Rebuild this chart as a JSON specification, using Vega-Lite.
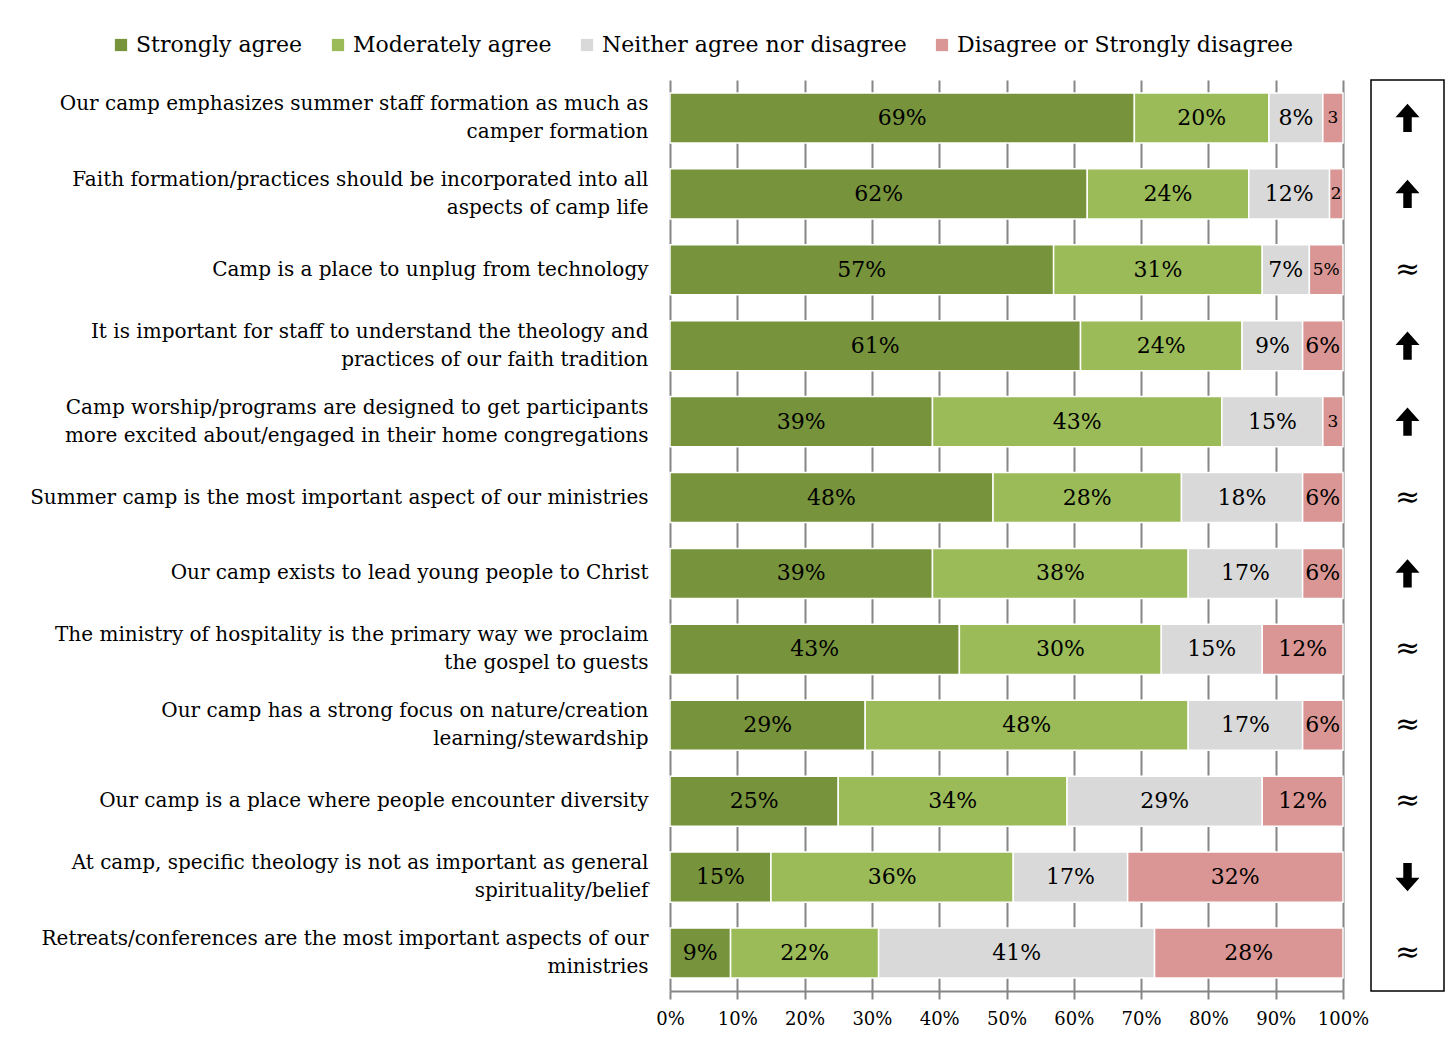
{
  "$schema": "https://vega.github.io/schema/vega-lite/v6.json",
  "background": "white",
  "padding": {"left": 29, "top": 34, "right": 0, "bottom": 0},
  "config": {"font": "DejaVu Serif", "view": {"stroke": null}},
  "spacing": 1,
  "datasets": {
    "bars": [
      {"q": "Our camp emphasizes summer staff formation as much as|camper formation", "r": "Strongly agree", "v": 69, "label": "69%"},
      {"q": "Our camp emphasizes summer staff formation as much as|camper formation", "r": "Moderately agree", "v": 20, "label": "20%"},
      {"q": "Our camp emphasizes summer staff formation as much as|camper formation", "r": "Neither agree nor disagree", "v": 8, "label": "8%"},
      {"q": "Our camp emphasizes summer staff formation as much as|camper formation", "r": "Disagree or Strongly disagree", "v": 3, "label": "3"},
      {"q": "Faith formation/practices should be incorporated into all|aspects of camp life", "r": "Strongly agree", "v": 62, "label": "62%"},
      {"q": "Faith formation/practices should be incorporated into all|aspects of camp life", "r": "Moderately agree", "v": 24, "label": "24%"},
      {"q": "Faith formation/practices should be incorporated into all|aspects of camp life", "r": "Neither agree nor disagree", "v": 12, "label": "12%"},
      {"q": "Faith formation/practices should be incorporated into all|aspects of camp life", "r": "Disagree or Strongly disagree", "v": 2, "label": "2"},
      {"q": "Camp is a place to unplug from technology", "r": "Strongly agree", "v": 57, "label": "57%"},
      {"q": "Camp is a place to unplug from technology", "r": "Moderately agree", "v": 31, "label": "31%"},
      {"q": "Camp is a place to unplug from technology", "r": "Neither agree nor disagree", "v": 7, "label": "7%"},
      {"q": "Camp is a place to unplug from technology", "r": "Disagree or Strongly disagree", "v": 5, "label": "5%"},
      {"q": "It is important for staff to understand the theology and|practices of our faith tradition", "r": "Strongly agree", "v": 61, "label": "61%"},
      {"q": "It is important for staff to understand the theology and|practices of our faith tradition", "r": "Moderately agree", "v": 24, "label": "24%"},
      {"q": "It is important for staff to understand the theology and|practices of our faith tradition", "r": "Neither agree nor disagree", "v": 9, "label": "9%"},
      {"q": "It is important for staff to understand the theology and|practices of our faith tradition", "r": "Disagree or Strongly disagree", "v": 6, "label": "6%"},
      {"q": "Camp worship/programs are designed to get participants|more excited about/engaged in their home congregations", "r": "Strongly agree", "v": 39, "label": "39%"},
      {"q": "Camp worship/programs are designed to get participants|more excited about/engaged in their home congregations", "r": "Moderately agree", "v": 43, "label": "43%"},
      {"q": "Camp worship/programs are designed to get participants|more excited about/engaged in their home congregations", "r": "Neither agree nor disagree", "v": 15, "label": "15%"},
      {"q": "Camp worship/programs are designed to get participants|more excited about/engaged in their home congregations", "r": "Disagree or Strongly disagree", "v": 3, "label": "3"},
      {"q": "Summer camp is the most important aspect of our ministries", "r": "Strongly agree", "v": 48, "label": "48%"},
      {"q": "Summer camp is the most important aspect of our ministries", "r": "Moderately agree", "v": 28, "label": "28%"},
      {"q": "Summer camp is the most important aspect of our ministries", "r": "Neither agree nor disagree", "v": 18, "label": "18%"},
      {"q": "Summer camp is the most important aspect of our ministries", "r": "Disagree or Strongly disagree", "v": 6, "label": "6%"},
      {"q": "Our camp exists to lead young people to Christ", "r": "Strongly agree", "v": 39, "label": "39%"},
      {"q": "Our camp exists to lead young people to Christ", "r": "Moderately agree", "v": 38, "label": "38%"},
      {"q": "Our camp exists to lead young people to Christ", "r": "Neither agree nor disagree", "v": 17, "label": "17%"},
      {"q": "Our camp exists to lead young people to Christ", "r": "Disagree or Strongly disagree", "v": 6, "label": "6%"},
      {"q": "The ministry of hospitality is the primary way we proclaim|the gospel to guests", "r": "Strongly agree", "v": 43, "label": "43%"},
      {"q": "The ministry of hospitality is the primary way we proclaim|the gospel to guests", "r": "Moderately agree", "v": 30, "label": "30%"},
      {"q": "The ministry of hospitality is the primary way we proclaim|the gospel to guests", "r": "Neither agree nor disagree", "v": 15, "label": "15%"},
      {"q": "The ministry of hospitality is the primary way we proclaim|the gospel to guests", "r": "Disagree or Strongly disagree", "v": 12, "label": "12%"},
      {"q": "Our camp has a strong focus on nature/creation|learning/stewardship", "r": "Strongly agree", "v": 29, "label": "29%"},
      {"q": "Our camp has a strong focus on nature/creation|learning/stewardship", "r": "Moderately agree", "v": 48, "label": "48%"},
      {"q": "Our camp has a strong focus on nature/creation|learning/stewardship", "r": "Neither agree nor disagree", "v": 17, "label": "17%"},
      {"q": "Our camp has a strong focus on nature/creation|learning/stewardship", "r": "Disagree or Strongly disagree", "v": 6, "label": "6%"},
      {"q": "Our camp is a place where people encounter diversity", "r": "Strongly agree", "v": 25, "label": "25%"},
      {"q": "Our camp is a place where people encounter diversity", "r": "Moderately agree", "v": 34, "label": "34%"},
      {"q": "Our camp is a place where people encounter diversity", "r": "Neither agree nor disagree", "v": 29, "label": "29%"},
      {"q": "Our camp is a place where people encounter diversity", "r": "Disagree or Strongly disagree", "v": 12, "label": "12%"},
      {"q": "At camp, specific theology is not as important as general|spirituality/belief", "r": "Strongly agree", "v": 15, "label": "15%"},
      {"q": "At camp, specific theology is not as important as general|spirituality/belief", "r": "Moderately agree", "v": 36, "label": "36%"},
      {"q": "At camp, specific theology is not as important as general|spirituality/belief", "r": "Neither agree nor disagree", "v": 17, "label": "17%"},
      {"q": "At camp, specific theology is not as important as general|spirituality/belief", "r": "Disagree or Strongly disagree", "v": 32, "label": "32%"},
      {"q": "Retreats/conferences are the most important aspects of our|ministries", "r": "Strongly agree", "v": 9, "label": "9%"},
      {"q": "Retreats/conferences are the most important aspects of our|ministries", "r": "Moderately agree", "v": 22, "label": "22%"},
      {"q": "Retreats/conferences are the most important aspects of our|ministries", "r": "Neither agree nor disagree", "v": 41, "label": "41%"},
      {"q": "Retreats/conferences are the most important aspects of our|ministries", "r": "Disagree or Strongly disagree", "v": 28, "label": "28%"}
    ],
    "trend": [
      {"q": "Our camp emphasizes summer staff formation as much as|camper formation", "t": "up"},
      {"q": "Faith formation/practices should be incorporated into all|aspects of camp life", "t": "up"},
      {"q": "Camp is a place to unplug from technology", "t": "same"},
      {"q": "It is important for staff to understand the theology and|practices of our faith tradition", "t": "up"},
      {"q": "Camp worship/programs are designed to get participants|more excited about/engaged in their home congregations", "t": "up"},
      {"q": "Summer camp is the most important aspect of our ministries", "t": "same"},
      {"q": "Our camp exists to lead young people to Christ", "t": "up"},
      {"q": "The ministry of hospitality is the primary way we proclaim|the gospel to guests", "t": "same"},
      {"q": "Our camp has a strong focus on nature/creation|learning/stewardship", "t": "same"},
      {"q": "Our camp is a place where people encounter diversity", "t": "same"},
      {"q": "At camp, specific theology is not as important as general|spirituality/belief", "t": "down"},
      {"q": "Retreats/conferences are the most important aspects of our|ministries", "t": "same"}
    ]
  },
  "hconcat": [
    {
      "width": 673,
      "height": 911,
      "data": {"name": "bars"},
      "transform": [
        {"calculate": "indexof(['Strongly agree','Moderately agree','Neither agree nor disagree','Disagree or Strongly disagree'], datum.r)", "as": "o"},
        {"stack": "v", "groupby": ["q"], "sort": [{"field": "o", "order": "ascending"}], "as": ["v0", "v1"]},
        {"calculate": "(datum.v0 + datum.v1) / 2", "as": "vm"}
      ],
      "encoding": {
        "y": {
          "field": "q", "type": "nominal", "sort": null,
          "scale": {"paddingInner": 0.34, "paddingOuter": 0.17},
          "axis": {"title": null, "domain": false, "ticks": false, "labelPadding": 22, "labelLimit": 800,
                   "labelFontSize": 20, "labelColor": "black", "labelLineHeight": 28,
                   "labelOffset": {"condition": {"test": "indexof(datum.value, '|') >= 0", "value": -14}, "value": 0},
                   "labelExpr": "split(datum.value, '|')"}
        }
      },
      "layer": [
        {
          "mark": {"type": "bar", "stroke": "white", "strokeWidth": 1.5},
          "encoding": {
            "x": {"field": "v0", "type": "quantitative", "scale": {"domain": [0, 100], "nice": false},
                  "axis": {"title": null, "values": [0,10,20,30,40,50,60,70,80,90,100], "labelExpr": "datum.value + '%'",
                           "labelOverlap": false, "labelFlush": false,
                           "grid": true, "gridColor": "#868686", "gridWidth": 2, "domainColor": "#868686", "domainWidth": 2,
                           "tickColor": "#868686", "tickWidth": 2, "tickSize": 8, "labelFontSize": 18, "labelColor": "black", "labelPadding": 11}},
            "x2": {"field": "v1"},
            "color": {
              "field": "r", "type": "nominal",
              "scale": {"domain": ["Strongly agree", "Moderately agree", "Neither agree nor disagree", "Disagree or Strongly disagree"],
                        "range": ["#77933C", "#9BBB59", "#D9D9D9", "#D99694"]},
              "legend": {"title": null, "orient": "none", "legendX": -560, "legendY": -46, "direction": "horizontal", "symbolType": "square", "symbolSize": 150,
                         "labelFontSize": 22, "labelColor": "black", "columnPadding": 24, "symbolStrokeWidth": 0, "labelLimit": 500}
            }
          }
        },
        {
          "mark": {"type": "text", "color": "black", "baseline": "middle", "align": "center"},
          "encoding": {
            "x": {"field": "vm", "type": "quantitative"},
            "text": {"field": "label"},
            "size": {"condition": {"test": "datum.v <= 5", "value": 17}, "value": 22}
          }
        }
      ]
    },
    {
      "width": 73,
      "height": 911,
      "data": {"name": "trend"},
      "view": {"stroke": "black", "strokeWidth": 1.5},
      "encoding": {
        "y": {"field": "q", "type": "nominal", "sort": null, "axis": null}
      },
      "layer": [
        {
          "mark": {"type": "point", "filled": true, "size": 800, "color": "black", "opacity": 1},
          "encoding": {
            "shape": {"field": "t", "type": "nominal",
                      "scale": {"domain": ["up", "down", "same"],
                                "range": ["M0,-1 L0.85,-0.05 L0.3,-0.05 L0.3,1 L-0.3,1 L-0.3,-0.05 L-0.85,-0.05 Z",
                                          "M0,1 L0.85,0.05 L0.3,0.05 L0.3,-1 L-0.3,-1 L-0.3,0.05 L-0.85,0.05 Z",
                                          "circle"]},
                      "legend": null},
            "opacity": {"condition": {"test": "datum.t === 'same'", "value": 0}, "value": 1}
          }
        },
        {
          "mark": {"type": "text", "fontSize": 30, "color": "black", "baseline": "middle", "font": "DejaVu Serif"},
          "encoding": {
            "text": {"condition": {"test": "datum.t === 'same'", "value": "≈"}, "value": ""}
          }
        }
      ]
    }
  ]
}
